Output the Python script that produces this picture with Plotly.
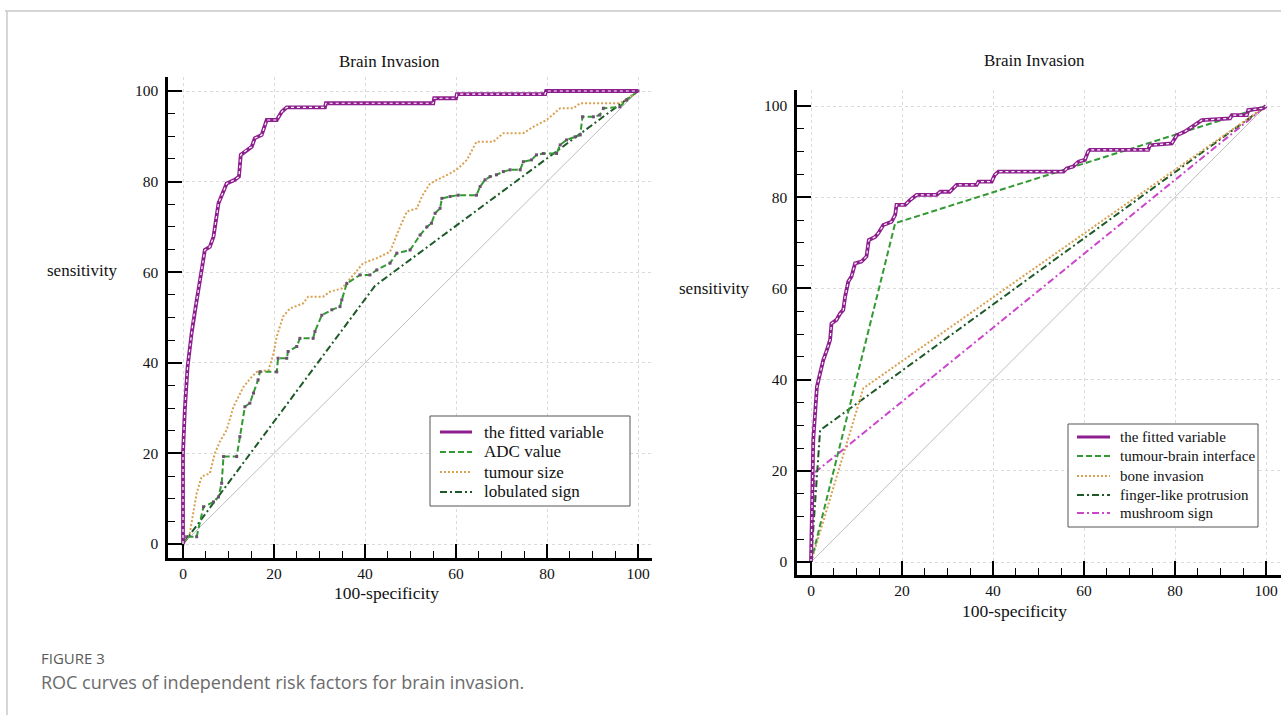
import plotly.graph_objects as go

# ---------------- data ----------------
DIAG = [0, 100]

# Left panel
L_FIT_X = [0, 0, 0.4, 1.0, 1.9, 2.3, 2.9, 4.1, 4.8, 5.9, 6.7, 7.8, 8.5, 9.6, 11.4, 12.3, 12.7,
           14.0, 15.1, 15.8, 17.3, 18.4, 20.6, 21.7, 22.8, 31.2, 31.4, 55.0, 55.2, 60.0, 60.2,
           79.6, 79.8, 100]
L_FIT_Y = [0, 20, 29.6, 39.0, 46.6, 49.8, 53.1, 60.5, 64.9, 65.6, 67.8, 75.2, 77.0, 79.6, 80.4,
           81.1, 85.9, 87.0, 87.7, 89.6, 90.3, 93.6, 93.6, 95.4, 96.4, 96.4, 97.3, 97.3, 98.4,
           98.4, 99.3, 99.3, 100, 100]

L_ADC_X = [0, 0.8, 3.0, 4.5, 6.7, 7.8, 8.5, 8.9, 11.8, 12.5, 13.6, 14.7, 15.5, 16.5, 16.9, 20.6,
           20.9, 22.8, 23.1, 25.0, 25.7, 28.6, 29.0, 30.5, 32.7, 34.5, 34.9, 36.0, 38.9, 41.1,
           42.6, 45.5, 47.0, 49.9, 52.1, 53.6, 54.6, 55.4, 56.5, 56.9, 58.7, 60.5, 64.5, 65.3,
           66.4, 67.5, 68.9, 70.4, 71.9, 74.1, 74.8, 76.6, 77.7, 79.2, 82.1, 82.9, 84.3, 86.2,
           87.3, 87.8, 90.2, 91.6, 92.4, 96.0, 97.5, 100]
L_ADC_Y = [0, 1.6, 1.6, 8.2, 9.3, 10.4, 13.4, 19.3, 19.3, 23.7, 30.3, 31.1, 33.3, 36.2, 38.0, 38.0,
           41.0, 41.0, 42.5, 43.6, 45.4, 45.4, 46.9, 50.5, 51.7, 52.4, 53.9, 57.5, 59.4, 59.4,
           60.5, 62.0, 64.2, 64.9, 68.2, 70.0, 70.8, 73.0, 74.1, 76.3, 76.7, 77.0, 77.0, 78.9,
           80.4, 81.1, 81.5, 82.2, 82.6, 82.6, 84.4, 84.8, 85.9, 86.2, 86.2, 88.1, 89.2, 89.9,
           90.3, 94.3, 94.3, 94.7, 96.2, 96.5, 98.0, 100]

L_SIZE_X = [0, 1.5, 3.0, 4.1, 5.9, 7.0, 8.1, 9.6, 11.1, 13.3, 15.1, 16.2, 18.8, 19.9, 20.6, 22.0,
            23.5, 26.4, 27.5, 30.8, 32.3, 34.9, 37.1, 39.6, 42.6, 45.5, 47.7, 49.2, 51.4, 52.5,
            54.3, 56.5, 58.7, 60.5, 62.4, 64.5, 68.2, 70.4, 74.8, 77.0, 79.9, 82.9, 85.8, 87.3,
            96.0, 99.0, 100]
L_SIZE_Y = [0, 2.4, 11.2, 14.9, 15.6, 20.0, 22.6, 25.2, 30.3, 34.7, 36.9, 38.0, 38.4, 42.1, 45.8,
            50.2, 52.0, 53.1, 54.6, 54.6, 55.7, 56.4, 59.0, 62.0, 63.1, 64.5, 70.0, 73.4, 74.1,
            76.7, 79.6, 80.7, 81.8, 82.9, 84.8, 88.8, 88.8, 90.7, 90.7, 92.1, 93.6, 96.2, 96.2,
            97.3, 97.3, 99.1, 100]

L_LOB_X = [0, 42.2, 100]
L_LOB_Y = [0, 57.0, 100]

# Right panel
R_FIT_X = [0, 0.4, 0.5, 0.9, 1.3, 2.0, 2.7, 3.5, 4.2, 4.5, 5.6, 6.4, 7.1, 7.5, 8.2, 8.9, 9.7, 11.1,
           12.2, 12.7, 14.1, 14.8, 15.9, 17.7, 18.5, 18.8, 20.7, 21.8, 23.2, 27.6, 28.4, 30.5,
           31.3, 32.0, 36.4, 36.8, 39.7, 40.4, 41.2, 55.5, 56.2, 57.6, 58.8, 60.2, 60.9, 61.3,
           74.1, 74.5, 79.3, 80.4, 82.2, 83.3, 84.8, 85.9, 92.1, 92.5, 95.8, 96.1, 99.4, 100]
R_FIT_Y = [0, 20.2, 26.8, 32.6, 38.4, 41.4, 44.3, 46.5, 48.7, 52.3, 53.1, 54.5, 55.3, 58.2, 61.5,
           62.6, 65.5, 65.9, 67.0, 70.6, 71.3, 72.1, 73.9, 74.6, 76.1, 78.3, 78.3, 79.4, 80.5,
           80.5, 81.2, 81.2, 81.9, 82.7, 82.7, 83.4, 83.4, 84.9, 85.6, 85.6, 86.3, 86.7, 87.8,
           88.2, 90.0, 90.4, 90.4, 91.4, 91.8, 93.6, 94.4, 95.1, 96.2, 96.9, 97.3, 98.0, 98.0,
           99.1, 99.5, 100]

R_TBI_X = [0, 18.5, 100]
R_TBI_Y = [0, 74.3, 100]
R_BONE_X = [0, 11.5, 100]
R_BONE_Y = [0, 38.1, 100]
R_FING_X = [0, 2.0, 100]
R_FING_Y = [0, 28.9, 100]
R_MUSH_X = [0, 0.8, 100]
R_MUSH_Y = [0, 19.6, 100]

LEFT_NAMES = ["the fitted variable", "ADC value", "tumour size", "lobulated sign"]
RIGHT_NAMES = ["the fitted variable", "tumour-brain interface", "bone invasion",
               "finger-like protrusion", "mushroom sign"]
TICKS = [0, 20, 40, 60, 80, 100]
TITLE = "Brain Invasion"
XLABEL = "100-specificity"
YLABEL = "sensitivity"
CAP1 = "FIGURE 3"
CAP2 = "ROC curves of independent risk factors for brain invasion."

# ---------------- styling ----------------
W, H = 1281, 715
SERIF = "Liberation Serif, Times New Roman, serif"
PURPLE = "#8E1E8E"
GREEN = "#339933"
ORANGE = "#D9A050"
DKGREEN = "#1E5A28"
MAGENTA = "#CC44CC"
GRAY = "#BDBDBD"

DASH = "6px,3px"
DOT = "2px,2px"
DASHDOT = "7px,3px,2px,3px"

LEFT_STYLES = [(PURPLE, "solid", 3), (GREEN, DASH, 2), (ORANGE, DOT, 2), (DKGREEN, DASHDOT, 2)]
RIGHT_STYLES = [(PURPLE, "solid", 3), (GREEN, DASH, 2), (ORANGE, DOT, 2),
                (DKGREEN, DASHDOT, 2), (MAGENTA, DASHDOT, 2)]


def px(x):
    return x / W


def py(y):
    return 1 - y / H


fig = go.Figure()


def diag(xa, ya):
    fig.add_trace(go.Scatter(x=DIAG, y=DIAG, mode="lines", line=dict(color=GRAY, width=1),
                             showlegend=False, xaxis=xa, yaxis=ya, hoverinfo="skip"))


def line(xs, ys, xa, ya, name, color, dash):
    fig.add_trace(go.Scatter(x=xs, y=ys, mode="lines", name=name, showlegend=False,
                             line=dict(color=color, width=2, dash=dash),
                             xaxis=xa, yaxis=ya))


def fitted(xs, ys, xa, ya, name):
    fig.add_trace(go.Scatter(x=xs, y=ys, mode="lines", name=name, showlegend=False,
                             line=dict(color=PURPLE, width=3.8), xaxis=xa, yaxis=ya))
    fig.add_trace(go.Scatter(x=xs, y=ys, mode="lines", showlegend=False,
                             line=dict(color="white", width=1.2, dash="dot"),
                             xaxis=xa, yaxis=ya, hoverinfo="skip"))


# Left panel traces
diag("x", "y")
line(L_LOB_X, L_LOB_Y, "x", "y", LEFT_NAMES[3], DKGREEN, DASHDOT)
line(L_SIZE_X, L_SIZE_Y, "x", "y", LEFT_NAMES[2], ORANGE, DOT)
line(L_ADC_X, L_ADC_Y, "x", "y", LEFT_NAMES[1], GREEN, DASH)
fig.add_trace(go.Scatter(x=L_ADC_X, y=L_ADC_Y, mode="markers", showlegend=False,
                         marker=dict(symbol="square", size=3, color="#6E4E72"),
                         xaxis="x", yaxis="y", hoverinfo="skip"))
fitted(L_FIT_X, L_FIT_Y, "x", "y", LEFT_NAMES[0])

# Right panel traces
diag("x2", "y2")
line(R_MUSH_X, R_MUSH_Y, "x2", "y2", RIGHT_NAMES[4], MAGENTA, DASHDOT)
line(R_FING_X, R_FING_Y, "x2", "y2", RIGHT_NAMES[3], DKGREEN, DASHDOT)
line(R_BONE_X, R_BONE_Y, "x2", "y2", RIGHT_NAMES[2], ORANGE, DOT)
line(R_TBI_X, R_TBI_Y, "x2", "y2", RIGHT_NAMES[1], GREEN, DASH)
fitted(R_FIT_X, R_FIT_Y, "x2", "y2", RIGHT_NAMES[0])


def axis_style(rng, domain, anchor, standoff):
    return dict(
        range=rng, domain=domain, anchor=anchor,
        tickmode="array", tickvals=TICKS, ticktext=[str(t) for t in TICKS],
        ticks="inside", ticklen=14, tickwidth=2, tickcolor="black",
        showline=True, linecolor="black", linewidth=2.5,
        showgrid=True, gridcolor="#DADADA", griddash="dot", gridwidth=1,
        zeroline=False,
        tickfont=dict(family=SERIF, size=15.5, color="#111"),
        minor=dict(tickmode="linear", tick0=0, dtick=5, ticks="inside", ticklen=7,
                   tickwidth=1, tickcolor="black", showgrid=False),
        ticklabelstandoff=standoff,
        fixedrange=True,
    )


fig.update_layout(
    width=W, height=H, autosize=False,
    margin=dict(l=0, r=0, t=0, b=0),
    paper_bgcolor="white", plot_bgcolor="white",
    xaxis=axis_style([(168 - 183) / 4.55, (652 - 183) / 4.55], [168 / W, 652 / W], "y", 0),
    yaxis=axis_style([(544 - 558) / 4.53, (544 - 77) / 4.53], [py(558), py(77)], "x", 4),
    xaxis2=axis_style([(797 - 811) / 4.55, (1281 - 811) / 4.55], [797 / W, 1.0], "y2", 0),
    yaxis2=axis_style([(562 - 575) / 4.56, (562 - 90) / 4.56], [py(575), py(90)], "x2", 4),
    showlegend=False,
)

ann = []
shapes = []


def text(x, y, s, size, family=SERIF, color="#111", xanchor="center"):
    ann.append(dict(x=px(x), y=py(y), xref="paper", yref="paper", text=s, showarrow=False,
                    xanchor=xanchor, yanchor="middle",
                    font=dict(family=family, size=size, color=color)))


def hline(x0, x1, y, color, width, dash="solid"):
    shapes.append(dict(type="line", xref="paper", yref="paper", x0=px(x0), x1=px(x1),
                       y0=py(y), y1=py(y), line=dict(color=color, width=width, dash=dash)))


def legend_box(box, sample_x, text_x, rows, names, styles, size):
    x0, y0, x1, y1 = box
    shapes.append(dict(type="rect", xref="paper", yref="paper", x0=px(x0), x1=px(x1),
                       y0=py(y1), y1=py(y0), line=dict(color="#555", width=1),
                       fillcolor="white", layer="above"))
    for yy, name, (color, dash, width) in zip(rows, names, styles):
        hline(sample_x[0], sample_x[1], yy, color, width, dash)
        text(text_x, yy, name, size, xanchor="left")


text(389, 61, TITLE, 17)
text(1034, 60, TITLE, 17)
text(386, 593, XLABEL, 17.5)
text(1014, 611, XLABEL, 17.5)
text(82, 270, YLABEL, 17)
text(714, 288, YLABEL, 17)
text(39, 658, CAP1, 15, family="Open Sans", color="#5a5a5a", xanchor="left")
text(39, 682, CAP2, 18, family="Open Sans", color="#6b6b6b", xanchor="left")

legend_box((430, 416, 630, 506), (440, 472), 482, [432, 452, 472, 492],
           LEFT_NAMES, LEFT_STYLES, 17)
legend_box((1068, 424, 1258, 527), (1077, 1110), 1118, [437, 456, 476, 495, 513],
           RIGHT_NAMES, RIGHT_STYLES, 15)

# page frame
hline(5, W, 11, "#C8C8C8", 1.5)
shapes.append(dict(type="line", xref="paper", yref="paper", x0=px(7), x1=px(7), y0=py(11), y1=0,
                   line=dict(color="#C8C8C8", width=1.5)))

fig.update_layout(annotations=ann, shapes=shapes)

fig.write_html("out.html", config={"displayModeBar": False},
               post_script="document.body.style.margin='0';document.body.style.overflow='hidden';")
